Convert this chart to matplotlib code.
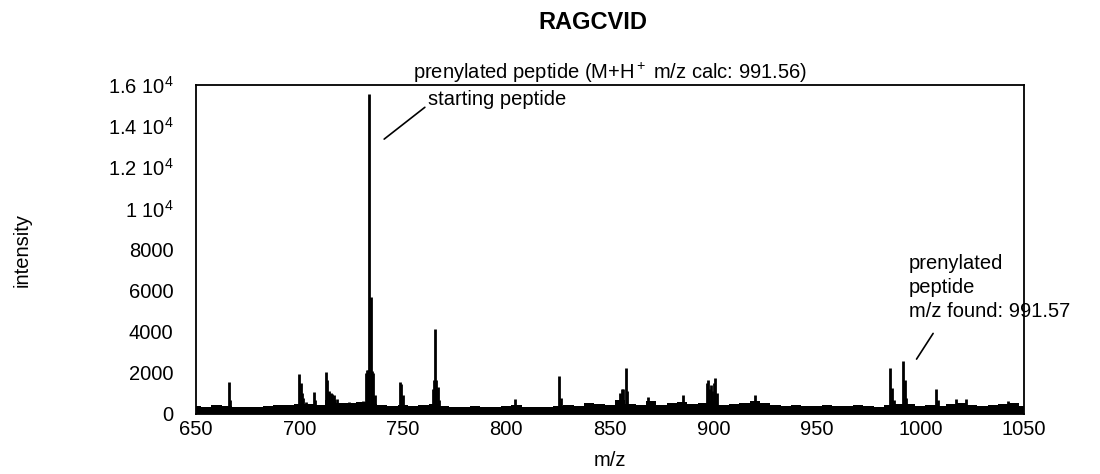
import numpy as np
import matplotlib
matplotlib.use("Agg")
import matplotlib.pyplot as plt

plt.rcParams["font.family"] = ["Liberation Sans", "DejaVu Sans"]
plt.rcParams["mathtext.fontset"] = "custom"
plt.rcParams["mathtext.rm"] = "Liberation Sans"
plt.rcParams["mathtext.it"] = "Liberation Sans:italic"

# ---- data ----
# noise floor envelope, every 5 m/z from 650 to 1050
noise_mz = np.arange(650, 1051, 5)
noise_top = [380, 350, 420, 380, 330, 360, 340, 380, 450, 420,
             500, 480, 450, 700, 550, 550, 600, 500, 420, 380,
             450, 400, 450, 500, 380, 330, 350, 380, 350, 330,
             380, 450, 330, 350, 330, 400, 420, 380, 550, 500,
             450, 700, 500, 450, 650, 450, 550, 600, 500, 550,
             650, 450, 500, 550, 650, 550, 450, 400, 450, 400,
             380, 420, 400, 380, 420, 380, 350, 450, 480, 500,
             400, 450, 400, 500, 550, 420, 400, 450, 500, 550,
             380]

# peaks (m/z, intensity)
peak_mz = [666.0, 666.7, 700.0, 700.6, 701.2, 702.0, 703.0, 707.0, 707.8,
           712.9, 713.6, 714.4, 715.2, 716.0, 717.0, 718.0, 719.0, 723.8,
           727.5, 731.0, 732.0, 732.6, 733.2, 733.8, 734.4, 735.0, 735.6,
           736.4, 748.6, 749.3, 750.0, 764.6, 765.1, 765.6, 766.2, 766.8,
           767.4, 804.2, 825.6, 826.3, 855.0, 855.8, 856.6, 857.6, 858.4,
           868.5, 885.4, 896.8, 897.3, 898.0, 898.8, 899.6, 900.4, 900.9,
           901.6, 920.0, 985.6, 986.4, 987.2, 991.7, 992.5, 993.3, 1007.8,
           1008.5, 1017.4, 1021.9, 1042.4]
peak_int = [1580, 700, 1950, 1500, 1000, 800, 600, 1090, 700,
            2030, 1660, 1100, 1000, 950, 900, 750, 550, 600,
            550, 650, 2000, 2150, 2150, 15560, 5700, 2100, 2000,
            900, 1580, 1450, 900, 1200, 1660, 4130, 1660, 1300,
            700, 715, 1850, 800, 1000, 1200, 1200, 2230, 1100,
            810, 925, 1500, 1660, 1200, 1415, 1100, 1500, 1770,
            1000, 925, 2230, 1250, 700, 2600, 1660, 800, 1200,
            700, 715, 715, 630]

xticks = [650, 700, 750, 800, 850, 900, 950, 1000, 1050]
yticks = [0, 2000, 4000, 6000, 8000, 10000, 12000, 14000, 16000]
ytick_labels = ["0", "2000", "4000", "6000", "8000", "1 10$^4$",
                "1.2 10$^4$", "1.4 10$^4$", "1.6 10$^4$"]

fs = 14.5

fig = plt.figure(figsize=(11, 4.74), dpi=100)
ax = fig.add_axes([0.178, 0.1266, 0.7527, 0.694])

ax.fill_between(noise_mz, 0, noise_top, step="mid", color="black", lw=0)
ax.vlines(peak_mz, 0, peak_int, color="black", lw=2.0)

ax.set_xlim(650, 1050)
ax.set_ylim(0, 16000)
ax.set_xticks(xticks)
ax.set_xticklabels([str(t) for t in xticks])
ax.set_yticks(yticks)
ax.set_yticklabels(ytick_labels)
ax.tick_params(axis="both", length=0, labelsize=fs)
ax.tick_params(axis="x", pad=4)
ax.tick_params(axis="y", pad=16)
for s in ax.spines.values():
    s.set_linewidth(1.3)

ax.set_xlabel("m/z", fontsize=fs, labelpad=9)
ax.set_ylabel("intensity", fontsize=fs, labelpad=55)
ax.set_title("prenylated peptide (M+H$^+$ m/z calc: 991.56)", fontsize=fs, pad=4)
fig.text(0.539, 0.953, "RAGCVID", fontsize=17, fontweight="bold",
         ha="center", va="center")

# annotations
ax.annotate("starting peptide", xy=(741.0, 13370), xytext=(762.0, 15300),
            fontsize=fs, va="center", ha="left",
            arrowprops=dict(arrowstyle="-", color="black", lw=1.2,
                            shrinkA=0, shrinkB=0, relpos=(0, 0.2)))
ax.annotate("prenylated\npeptide\nm/z found: 991.57", xy=(998.2, 2670),
            xytext=(994.4, 6150), fontsize=fs, va="center", ha="left",
            linespacing=1.35,
            arrowprops=dict(arrowstyle="-", color="black", lw=1.2,
                            shrinkA=8, shrinkB=0, relpos=(0.2, 0)))

fig.savefig("out.png", dpi=100)
